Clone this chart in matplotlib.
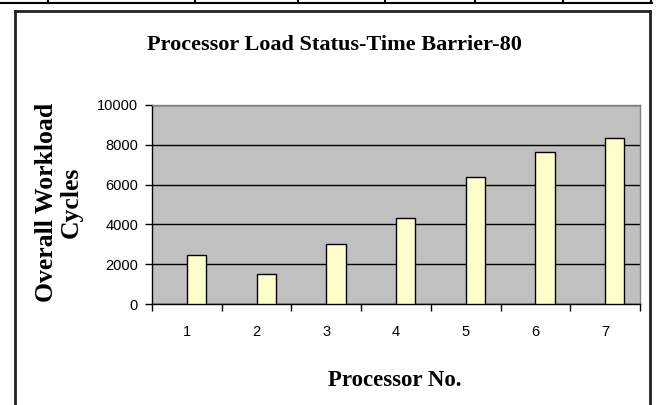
import matplotlib
matplotlib.use("Agg")
import matplotlib.pyplot as plt
from matplotlib.lines import Line2D

processors = [1, 2, 3, 4, 5, 6, 7]
workload = [2450, 1500, 3000, 4300, 6400, 7650, 8350]
y_ticks = [0, 2000, 4000, 6000, 8000, 10000]
title = "Processor Load Status-Time Barrier-80"
xlabel = "Processor No."
ylabel = "Overall Workload\nCycles"

W, H = 657, 405
fig = plt.figure(figsize=(W / 100, H / 100), dpi=100)
fig.patch.set_facecolor("white")

def fx(px):
    return px / W

def fy(py):
    return 1 - py / H

ax = fig.add_axes([fx(152), fy(304), fx(640) - fx(152), fy(105) - fy(304)])
ax.set_facecolor("#C0C0C0")

xs = list(range(len(processors)))
ax.bar(xs, workload, width=0.277, align="edge", color="#FFFFCC",
       edgecolor="black", linewidth=1.0, zorder=3)

ax.set_xlim(-0.5, len(processors) - 0.5)
ax.set_ylim(0, 10000)
ax.set_yticks(y_ticks)
ax.set_yticklabels([str(v) for v in y_ticks], family="Liberation Sans", fontsize=10.5)
ax.yaxis.grid(True, color="black", linewidth=1.0, zorder=1)
ax.set_axisbelow(True)

# x ticks at category boundaries, labels at centers
ax.set_xticks([i - 0.5 for i in range(len(processors) + 1)])
ax.set_xticklabels([])
ax.set_xticks(xs, minor=True)
ax.set_xticklabels([str(p) for p in processors], minor=True,
                   family="Liberation Sans", fontsize=10.5)
ax.tick_params(axis="x", which="major", direction="out", length=5, width=1, color="black")
ax.tick_params(axis="x", which="minor", length=0, pad=15)
ax.tick_params(axis="y", direction="out", length=5, width=1, color="black", pad=5)

for s in ["top", "right"]:
    ax.spines[s].set_color("#808080")
    ax.spines[s].set_linewidth(1.0)
for s in ["left", "bottom"]:
    ax.spines[s].set_color("black")
    ax.spines[s].set_linewidth(1.0)

fig.text(fx(334), fy(45), title, ha="center", va="center",
         family="Liberation Serif", fontweight="bold", fontsize=16)
fig.text(fx(395), fy(380), xlabel, ha="center", va="center",
         family="Liberation Serif", fontweight="bold", fontsize=16.5)
fig.text(fx(59), fy(202), ylabel, ha="center", va="center", rotation=90,
         family="Liberation Serif", fontweight="bold", fontsize=18.5, linespacing=1.1,
         multialignment="center")

# outer frame (left, top, right)
frame_kw = dict(color="#222222", linewidth=2.0, transform=fig.transFigure)
fig.add_artist(Line2D([fx(15), fx(15)], [fy(11), fy(406)], **frame_kw))
fig.add_artist(Line2D([fx(15), fx(650)], [fy(11), fy(11)], **frame_kw))
fig.add_artist(Line2D([fx(650), fx(650)], [fy(11), fy(406)], **frame_kw))

# table row remnant at top
tbl_kw = dict(color="black", linewidth=1.5, transform=fig.transFigure)
fig.add_artist(Line2D([fx(0), fx(652)], [fy(3), fy(3)], **tbl_kw))
for vx in [48, 195, 298, 385, 475, 563, 651]:
    fig.add_artist(Line2D([fx(vx), fx(vx)], [fy(-1), fy(3)], **tbl_kw))

fig.savefig("out.png", dpi=100)
